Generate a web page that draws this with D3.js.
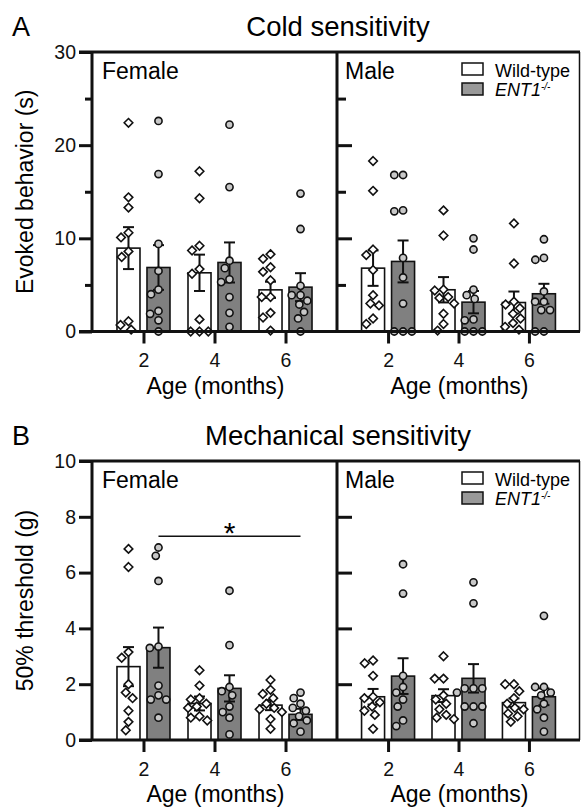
<!DOCTYPE html>
<html>
<head>
<meta charset="utf-8">
<script src="https://cdn.jsdelivr.net/npm/d3@7"></script>
<style>
body{margin:0;background:#fff;}
svg{display:block;font-family:"Liberation Sans",Arial,Helvetica,sans-serif;}
</style>
</head>
<body>
<svg id="chart" width="581" height="809"></svg>
<script>
const ages = [2, 4, 6];
const genotypes = ["Wild-type", "ENT1"];
const sexes = ["Female", "Male"];

// A: cold sensitivity, evoked behavior (s), one list per age
const coldFemaleWT = [
  [22.4, 14.4, 13.3, 10.6, 10.1, 8.6, 8.0, 1.1, 0.7, 0.2],
  [17.2, 14.3, 9.2, 8.7, 6.7, 6.2, 1.3, 0, 0, 0],
  [8.3, 7.8, 6.9, 6.4, 5.5, 3.7, 3.7, 2.0, 1.5, 0.1]
];
const coldFemaleKO = [
  [22.6, 16.9, 9.4, 6.5, 4.5, 4.0, 2.2, 1.9, 1.2, 0],
  [22.2, 15.5, 7.6, 6.8, 5.6, 5.3, 3.7, 2.0, 0.5],
  [14.8, 11.0, 4.9, 3.9, 3.9, 3.3, 2.9, 2.1, 1.4, 0]
];
const coldMaleWT = [
  [18.3, 15.1, 8.8, 8.2, 6.6, 3.9, 3.0, 2.8, 1.4, 0.8],
  [13.0, 10.3, 4.5, 4.4, 3.7, 3.6, 3.0, 1.9, 0.8, 0.1],
  [11.6, 7.3, 3.2, 2.9, 2.5, 1.9, 1.4, 0.9, 0.5, 0.2]
];
const coldMaleKO = [
  [16.8, 16.8, 13.0, 12.9, 7.9, 5.8, 3.0, 0, 0, 0],
  [10.0, 8.8, 4.5, 3.9, 3.5, 1.3, 1.2, 0, 0, 0],
  [9.9, 7.9, 7.7, 4.3, 3.2, 3.2, 2.3, 2.3, 0, 0]
];
const coldFemaleWTMean = [8.95, 6.3, 4.47],  coldFemaleWTSem = [2.25, 1.95, 0.87];
const coldFemaleKOMean = [6.87, 7.41, 4.76], coldFemaleKOSem = [2.4, 2.15, 1.5];
const coldMaleWTMean = [6.8, 4.48, 3.11],    coldMaleWTSem = [1.9, 1.36, 1.18];
const coldMaleKOMean = [7.52, 3.15, 4.05],   coldMaleKOSem = [2.25, 1.2, 1.07];

// B: mechanical sensitivity, 50% threshold (g)
const mechFemaleWT = [
  [6.85, 6.2, 3.15, 2.95, 2.0, 1.7, 1.5, 1.05, 0.65, 0.35],
  [2.5, 1.95, 1.5, 1.45, 1.3, 1.2, 1.15, 0.85, 0.8, 0.7],
  [2.15, 1.8, 1.65, 1.5, 1.3, 1.15, 1.1, 1.0, 0.75, 0.4]
];
const mechFemaleKO = [
  [6.9, 6.6, 5.7, 3.35, 3.3, 1.95, 1.6, 1.45, 1.45, 0.8],
  [5.35, 3.4, 1.9, 1.75, 1.6, 1.2, 1.0, 0.8, 0.2],
  [1.7, 1.5, 1.3, 1.15, 1.05, 0.85, 0.7, 0.6, 0.3]
];
const mechMaleWT = [
  [2.85, 2.75, 2.3, 1.55, 1.5, 1.35, 1.2, 1.05, 0.9, 0.4],
  [3.0, 2.2, 2.2, 1.6, 1.45, 1.3, 1.1, 0.9, 0.8, 0.75],
  [2.0, 2.0, 1.75, 1.5, 1.3, 1.15, 1.1, 0.95, 0.85, 0.65]
];
const mechMaleKO = [
  [6.3, 5.25, 2.3, 1.9, 1.7, 1.45, 1.2, 0.7, 0.5],
  [5.65, 4.9, 1.85, 1.85, 1.85, 1.7, 1.2, 1.2, 1.2, 0.6],
  [4.45, 1.9, 1.9, 1.7, 1.6, 1.3, 1.1, 0.8, 0.3]
];
const mechFemaleWTMean = [2.63, 1.31, 1.25], mechFemaleWTSem = [0.7, 0.25, 0.18];
const mechFemaleKOMean = [3.31, 1.85, 0.92], mechFemaleKOSem = [0.72, 0.47, 0.2];
const mechMaleWTMean = [1.55, 1.59, 1.34],   mechMaleWTSem = [0.28, 0.23, 0.15];
const mechMaleKOMean = [2.29, 2.21, 1.55],   mechMaleKOSem = [0.64, 0.51, 0.3];

// significance bar (female ENT1, 2 vs 6 months)
const mechSig = {from: 2, to: 6, level: 7.3, label: "*"};

const figures = [
  {letter: "A", title: "Cold sensitivity", ylabel: "Evoked behavior (s)",
   top: 52, bottom: 331.5, yMax: 30, yTicks: [0, 10, 20, 30], yMinor: [5, 15, 25],
   data: [[coldFemaleWT, coldFemaleKO], [coldMaleWT, coldMaleKO]],
   mean: [[coldFemaleWTMean, coldFemaleKOMean], [coldMaleWTMean, coldMaleKOMean]],
   sem: [[coldFemaleWTSem, coldFemaleKOSem], [coldMaleWTSem, coldMaleKOSem]]},
  {letter: "B", title: "Mechanical sensitivity", ylabel: "50% threshold (g)",
   top: 461, bottom: 740, yMax: 10, yTicks: [0, 2, 4, 6, 8, 10], yMinor: [],
   data: [[mechFemaleWT, mechFemaleKO], [mechMaleWT, mechMaleKO]],
   mean: [[mechFemaleWTMean, mechFemaleKOMean], [mechMaleWTMean, mechMaleKOMean]],
   sem: [[mechFemaleWTSem, mechFemaleKOSem], [mechMaleWTSem, mechMaleKOSem]],
   sig: mechSig}
];

const svg = d3.select('#chart');
const xLeft = 92, xMid = 337, xRight = 580;
const ink = '#111';
const koGrey = '#808080', dotGrey = '#c8c8c8';

// simple beeswarm so dots at the same level sit side by side
function swarm(vals, y, r){
  const placed = [];
  const pts = vals.map(v => ({v: v, py: y(v)})).sort((a, b) => a.py - b.py);
  pts.forEach(p => {
    const blocks = placed.filter(q => Math.abs(q.py - p.py) < 2*r)
      .map(q => {
        const w = Math.sqrt(4*r*r - (q.py - p.py)**2);
        return [q.dx - w, q.dx + w];
      });
    const cands = [0];
    blocks.forEach(b => cands.push(b[0], b[1]));
    cands.sort((a, b) => Math.abs(a) - Math.abs(b));
    p.dx = cands.find(c => blocks.every(b => c <= b[0] + 1e-6 || c >= b[1] - 1e-6));
    placed.push(p);
  });
  return pts;
}

const diamond = 'M0,-4.3L4.3,0L0,4.3L-4.3,0Z';

function drawFigure(f){
  const y = d3.scaleLinear().domain([0, f.yMax]).range([f.bottom, f.top]);
  const g = svg.append('g');

  g.append('text').attr('x', 12).attr('y', f.top - 16)
    .attr('font-size', 27).text(f.letter);
  g.append('text').attr('x', 338).attr('y', f.top - 16)
    .attr('text-anchor', 'middle').attr('font-size', 27.5).text(f.title);
  g.append('text')
    .attr('transform', `translate(33,${(f.top + f.bottom)/2}) rotate(-90)`)
    .attr('text-anchor', 'middle').attr('font-size', 23).text(f.ylabel);

  sexes.forEach((sex, si) => {
    const x0 = si ? xMid : xLeft, x1 = si ? xRight : xMid;
    const x = d3.scalePoint().domain(ages).range([x0, x1]).padding(0.725);
    const sub = d3.scaleBand().domain(genotypes).range([-26.5, 26.5]).paddingInner(0.233);
    const bw = sub.bandwidth();

    // y axis ticks
    if (si === 0) {
      const ya = g.append('g').attr('transform', `translate(${xLeft},0)`)
        .call(d3.axisLeft(y).tickValues(f.yTicks).tickSize(13).tickPadding(3));
      ya.selectAll('text').attr('font-size', 19.5).attr('fill', ink);
      if (f.yMinor.length) {
        g.append('g').attr('transform', `translate(${xLeft},0)`)
          .call(d3.axisLeft(y).tickValues(f.yMinor).tickSize(7).tickFormat(''));
      }
    } else {
      const inner = f.yTicks.filter(t => t > 0 && t < f.yMax);
      g.append('g').attr('transform', `translate(${xMid},0)`)
        .call(d3.axisRight(y).tickValues(inner).tickSize(15).tickFormat(''));
      if (f.yMinor.length) {
        g.append('g').attr('transform', `translate(${xMid},0)`)
          .call(d3.axisRight(y).tickValues(f.yMinor).tickSize(9).tickFormat(''));
      }
    }

    // x axis
    const xa = g.append('g').attr('transform', `translate(0,${f.bottom})`)
      .call(d3.axisBottom(x).tickSize(12).tickPadding(10));
    xa.selectAll('text').attr('font-size', 19.5).attr('fill', ink);

    g.append('text').attr('x', (x0 + x1)/2 + 1).attr('y', f.bottom + 62)
      .attr('text-anchor', 'middle').attr('font-size', 23).text('Age (months)');

    g.append('text').attr('x', x0 + (si ? 8 : 10)).attr('y', f.top + 27)
      .attr('font-size', 23).text(sex);

    genotypes.forEach((gt, gi) => {
      const vals = f.data[si][gi], means = f.mean[si][gi], sems = f.sem[si][gi];
      ages.forEach((age, ai) => {
        const cx = x(age) + sub(gt) + bw/2;
        const m = means[ai], e = sems[ai];
        g.append('rect')
          .attr('x', cx - bw/2).attr('y', y(m))
          .attr('width', bw).attr('height', f.bottom - y(m))
          .attr('fill', gi ? koGrey : '#fff')
          .attr('stroke', ink).attr('stroke-width', 1.6);
        const eb = g.append('g').attr('stroke', ink).attr('stroke-width', 2);
        eb.append('line').attr('x1', cx).attr('x2', cx).attr('y1', y(m - e)).attr('y2', y(m + e));
        eb.append('line').attr('x1', cx - 5.5).attr('x2', cx + 5.5).attr('y1', y(m + e)).attr('y2', y(m + e));
        eb.append('line').attr('x1', cx - 5.5).attr('x2', cx + 5.5).attr('y1', y(m - e)).attr('y2', y(m - e));

        const pts = swarm(vals[ai], y, 4.4);
        const dots = g.append('g');
        if (gi === 0) {
          dots.selectAll('path').data(pts).join('path')
            .attr('d', diamond)
            .attr('transform', d => `translate(${cx + d.dx},${d.py})`)
            .attr('fill', '#fff').attr('stroke', ink).attr('stroke-width', 1.6);
        } else {
          dots.selectAll('circle').data(pts).join('circle')
            .attr('cx', d => cx + d.dx).attr('cy', d => d.py).attr('r', 3.6)
            .attr('fill', dotGrey).attr('stroke', ink).attr('stroke-width', 1.6);
        }
      });
    });

    if (si === 1) {
      const lg = g.append('g');
      genotypes.forEach((gt, gi) => {
        lg.append('rect').attr('x', 462).attr('y', f.top + 11 + gi*20)
          .attr('width', 21).attr('height', 12)
          .attr('fill', gi ? '#999' : '#fff').attr('stroke', ink).attr('stroke-width', 1.5);
        const t = lg.append('text').attr('x', 495).attr('y', f.top + 25 + gi*19)
          .attr('font-size', 18);
        if (gi) {
          t.append('tspan').attr('font-style', 'italic').text('ENT1');
          t.append('tspan').attr('font-style', 'italic').attr('font-size', 10).attr('dy', -6).text('-/-');
        } else {
          t.text(gt);
        }
      });
    }

    if (f.sig && si === 0) {
      const kx = gt => sub(gt) + bw/2;
      const xa1 = x(f.sig.from) + kx('ENT1'), xa2 = x(f.sig.to) + kx('ENT1');
      g.append('line').attr('x1', xa1).attr('x2', xa2)
        .attr('y1', y(f.sig.level)).attr('y2', y(f.sig.level))
        .attr('stroke', ink).attr('stroke-width', 1.5);
      g.append('text').attr('x', (xa1 + xa2)/2).attr('y', y(f.sig.level) + 7)
        .attr('text-anchor', 'middle').attr('font-size', 30).text(f.sig.label);
    }
  });

  // axis styling
  g.selectAll('.domain').remove();
  g.selectAll('.tick line').attr('stroke', ink).attr('stroke-width', 3);

  // frame
  const fr = g.append('g').attr('stroke', ink).attr('stroke-width', 3);
  fr.append('line').attr('x1', xLeft - 13).attr('x2', xRight).attr('y1', f.top).attr('y2', f.top);
  fr.append('line').attr('x1', xLeft - 13).attr('x2', xRight).attr('y1', f.bottom).attr('y2', f.bottom);
  fr.append('line').attr('x1', xLeft).attr('x2', xLeft).attr('y1', f.top).attr('y2', f.bottom);
  fr.append('line').attr('x1', xMid).attr('x2', xMid).attr('y1', f.top).attr('y2', f.bottom);
  fr.append('line').attr('x1', xRight - 0.5).attr('x2', xRight - 0.5).attr('y1', f.top).attr('y2', f.bottom)
    .attr('stroke-width', 1.5);
}

figures.forEach(drawFigure);
</script>
</body>
</html>
